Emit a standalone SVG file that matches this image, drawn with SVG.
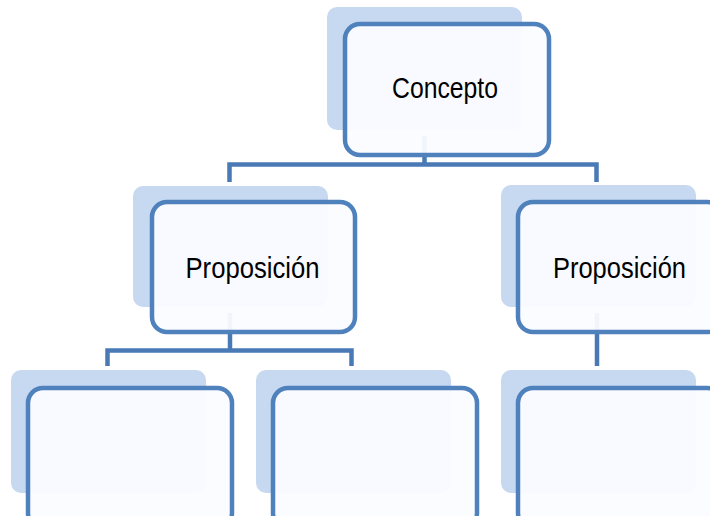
<svg xmlns="http://www.w3.org/2000/svg" width="710" height="516" viewBox="0 0 710 516">
  <style>
    .back { fill: #c6d9f0; }
    .front { fill: #fbfcff; fill-opacity: 0.94; stroke: #4f81bd; stroke-width: 4.5; }
    .link { fill: none; stroke: #4a7ab5; stroke-width: 4.5; stroke-linejoin: miter; }
    .label { font-family: "Liberation Sans", Arial, sans-serif; font-size: 30px; fill: #000; text-anchor: middle; }
  </style>
  <rect width="710" height="516" fill="#ffffff"/>

  <!-- back plates sit beneath the connectors -->
  <g id="plates">
    <rect class="back" x="327" y="7" width="195" height="123" rx="10"/>
    <rect class="back" x="133" y="186" width="195" height="121" rx="10"/>
    <rect class="back" x="501" y="185" width="195" height="122" rx="10"/>
    <rect class="back" x="11" y="370" width="195" height="123" rx="10"/>
    <rect class="back" x="256" y="370" width="195" height="123" rx="10"/>
    <rect class="back" x="501" y="370" width="195" height="123" rx="10"/>
  </g>

  <g id="connectors">
    <path class="link" d="M424.5,136 V164.5"/>
    <path class="link" d="M229.5,182 V164.5 H596.5 V182"/>
    <path class="link" d="M230,313 V350.5"/>
    <path class="link" d="M107.5,366 V350.5 H351.5 V366"/>
    <path class="link" d="M597,313 V366"/>
  </g>

  <g id="concepto">
    <rect class="front" x="345" y="24" width="204" height="131" rx="15"/>
    <text class="label" x="445" y="98" textLength="106" lengthAdjust="spacingAndGlyphs">Concepto</text>
  </g>

  <g id="proposicion-1">
    <rect class="front" x="152" y="202" width="203" height="130" rx="15"/>
    <text class="label" x="252.5" y="278" textLength="134" lengthAdjust="spacingAndGlyphs">Proposición</text>
  </g>

  <g id="proposicion-2">
    <rect class="front" x="518" y="202" width="204" height="130" rx="15"/>
    <text class="label" x="619.5" y="278" textLength="133" lengthAdjust="spacingAndGlyphs">Proposición</text>
  </g>

  <g id="hoja-1">
    <rect class="front" x="28" y="388" width="204" height="140" rx="15"/>
  </g>

  <g id="hoja-2">
    <rect class="front" x="273" y="388" width="204" height="140" rx="15"/>
  </g>

  <g id="hoja-3">
    <rect class="front" x="518" y="388" width="204" height="140" rx="15"/>
  </g>
</svg>
